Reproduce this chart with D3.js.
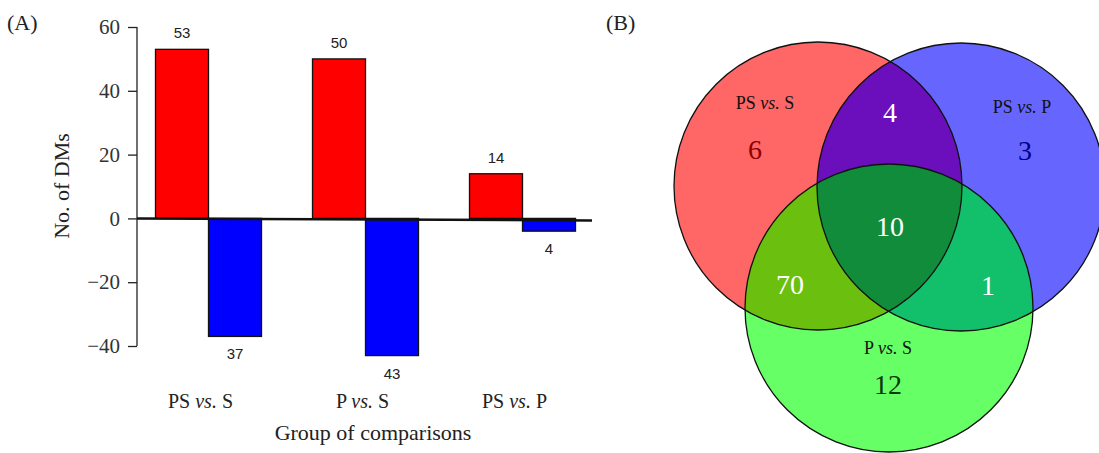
<!DOCTYPE html>
<html>
<head>
<meta charset="utf-8">
<script src="https://cdn.jsdelivr.net/npm/d3@7"></script>
<style>
  body { margin: 0; background: #fff; }
  text { font-family: "Liberation Serif", "DejaVu Serif", serif; fill: #222; }
  .val { font-family: "Liberation Sans", Arial, sans-serif; font-size: 15px; }
  .axe path, .axe line { stroke: #222; stroke-width: 1.3px; }
  .axe text { font-size: 21px; fill: #333; }
</style>
</head>
<body>
<svg width="1099" height="453"></svg>
<script>
// données
const groupes = ["PS vs. S", "P vs. S", "PS vs. P"];
const hausse = [53, 50, 14];
const baisse = [37, 43, 4];
const ticksY = [-40, -20, 0, 20, 40, 60];

const vennEnsembles = ["PS vs. S", "PS vs. P", "P vs. S"];
const vennSeuls = [6, 3, 12];          // PS-S seul, PS-P seul, P-S seul
const vennPaires = [4, 70, 1];         // PS-S∩PS-P, PS-S∩P-S, PS-P∩P-S
const vennTous = 10;

const svg = d3.select("svg");

// ---------- (A) barres ----------
const y = d3.scaleLinear().domain([-40, 60]).range([346, 27]);
const x = d3.scaleBand().domain(groupes).range([130, 601]).paddingInner(0).paddingOuter(0);
const largeur = 53;

svg.append("text").text("(A)").attr("x", 7).attr("y", 30).style("font-size", "22px");

svg.append("g")
  .classed("axe", true)
  .attr("transform", "translate(137,0)")
  .call(d3.axisLeft(y).tickValues(ticksY).tickSize(9).tickPadding(8)
        .tickFormat(d => d < 0 ? "\u2212" + Math.abs(d) : d))
  .call(g => g.select(".domain").attr("d", "M0," + y(-40) + "V" + y(60)))
  .selectAll("line").attr("x2", -9);

const centre = d => x(d) + x.bandwidth() / 2;

// barres rouges
svg.selectAll("rect.haut")
  .data(groupes)
  .enter()
  .append("rect")
    .attr("x", d => centre(d) - largeur)
    .attr("y", (d, i) => y(hausse[i]))
    .attr("width", largeur)
    .attr("height", (d, i) => y(0) - y(hausse[i]))
    .style("fill", "#ff0000").style("stroke", "#111").style("stroke-width", 1.3);

// barres bleues
svg.selectAll("rect.bas")
  .data(groupes)
  .enter()
  .append("rect")
    .attr("x", d => centre(d))
    .attr("y", y(0))
    .attr("width", largeur)
    .attr("height", (d, i) => y(-baisse[i]) - y(0))
    .style("fill", "#0000ff").style("stroke", "#111").style("stroke-width", 1.3);

// ligne du zéro
svg.append("line")
  .attr("x1", 137).attr("x2", 592)
  .attr("y1", y(0)).attr("y2", y(0) + 2)
  .style("stroke", "#111").style("stroke-width", 2.5);

// valeurs
svg.selectAll("text.vh")
  .data(groupes)
  .enter()
  .append("text")
    .classed("val", true)
    .style("text-anchor", "middle")
    .text((d, i) => hausse[i])
    .attr("x", d => centre(d) - largeur / 2)
    .attr("y", (d, i) => y(hausse[i]) - 11);

svg.selectAll("text.vb")
  .data(groupes)
  .enter()
  .append("text")
    .classed("val", true)
    .style("text-anchor", "middle")
    .text((d, i) => baisse[i])
    .attr("x", d => centre(d) + largeur / 2)
    .attr("y", (d, i) => y(-baisse[i]) + 23);

// étiquettes des groupes (vs. en italique)
const etiq = svg.selectAll("text.grp")
  .data(groupes)
  .enter()
  .append("text")
    .style("text-anchor", "middle")
    .style("font-size", "20px")
    .attr("x", (d, i) => centre(d) - 8 + [0, 5, 0][i])
    .attr("y", 408);
etiq.each(function (d) {
  const p = d.split(" vs. ");
  const t = d3.select(this);
  t.append("tspan").text(p[0] + " ");
  t.append("tspan").text("vs.").style("font-style", "italic");
  t.append("tspan").text(" " + p[1]);
});

svg.append("text").text("Group of comparisons")
  .attr("x", 373).attr("y", 440).style("text-anchor", "middle").style("font-size", "22px");

svg.append("text").text("No. of DMs")
  .attr("transform", "translate(69,186) rotate(-90)")
  .style("text-anchor", "middle").style("font-size", "22px");

// ---------- (B) Venn ----------
svg.append("text").text("(B)").attr("x", 606).attr("y", 30).style("font-size", "22px");

const cercles = [
  { cx: 818, cy: 186, r: 144, fill: "#ff6666" },
  { cx: 961, cy: 187, r: 144, fill: "#6666ff" },
  { cx: 889, cy: 308, r: 144, fill: "#66ff66" }
];
const defs = svg.append("defs");
cercles.forEach((c, i) => {
  defs.append("clipPath").attr("id", "clip" + i)
    .append("circle").attr("cx", c.cx).attr("cy", c.cy).attr("r", c.r);
});

const venn = svg.append("g");
const disque = (parent, c, fill) => parent.append("circle")
  .attr("cx", c.cx).attr("cy", c.cy).attr("r", c.r).style("fill", fill);

cercles.forEach(c => disque(venn, c, c.fill));
disque(venn.append("g").attr("clip-path", "url(#clip0)"), cercles[1], "#6a0fbb");
disque(venn.append("g").attr("clip-path", "url(#clip0)"), cercles[2], "#6bbf0f");
disque(venn.append("g").attr("clip-path", "url(#clip1)"), cercles[2], "#12bf6a");
disque(venn.append("g").attr("clip-path", "url(#clip0)")
           .append("g").attr("clip-path", "url(#clip1)"), cercles[2], "#118c3a");
cercles.forEach(c => venn.append("circle")
  .attr("cx", c.cx).attr("cy", c.cy).attr("r", c.r)
  .style("fill", "none").style("stroke", "#111").style("stroke-width", 1.3));

// noms des ensembles
const nomsPos = [[765, 109], [1022, 113], [888, 354]];
vennEnsembles.forEach((d, i) => {
  const p = d.split(" vs. ");
  const t = svg.append("text")
    .attr("x", nomsPos[i][0]).attr("y", nomsPos[i][1])
    .style("text-anchor", "middle").style("font-size", "18px").style("fill", "#111");
  t.append("tspan").text(p[0] + " ");
  t.append("tspan").text("vs.").style("font-style", "italic");
  t.append("tspan").text(" " + p[1]);
});

// comptes
const seulsPos = [[755, 159], [1025, 160], [888, 394]];
const seulsCoul = ["#8b0000", "#00008b", "#063a06"];
vennSeuls.forEach((v, i) => svg.append("text").text(v)
  .attr("x", seulsPos[i][0]).attr("y", seulsPos[i][1])
  .style("text-anchor", "middle").style("font-size", "28px").style("fill", seulsCoul[i]));

const pairesPos = [[890, 122], [790, 294], [988, 295]];
vennPaires.forEach((v, i) => svg.append("text").text(v)
  .attr("x", pairesPos[i][0]).attr("y", pairesPos[i][1])
  .style("text-anchor", "middle").style("font-size", "28px").style("fill", "#fff"));

svg.append("text").text(vennTous)
  .attr("x", 890).attr("y", 236)
  .style("text-anchor", "middle").style("font-size", "28px").style("fill", "#fff");
</script>
</body>
</html>
